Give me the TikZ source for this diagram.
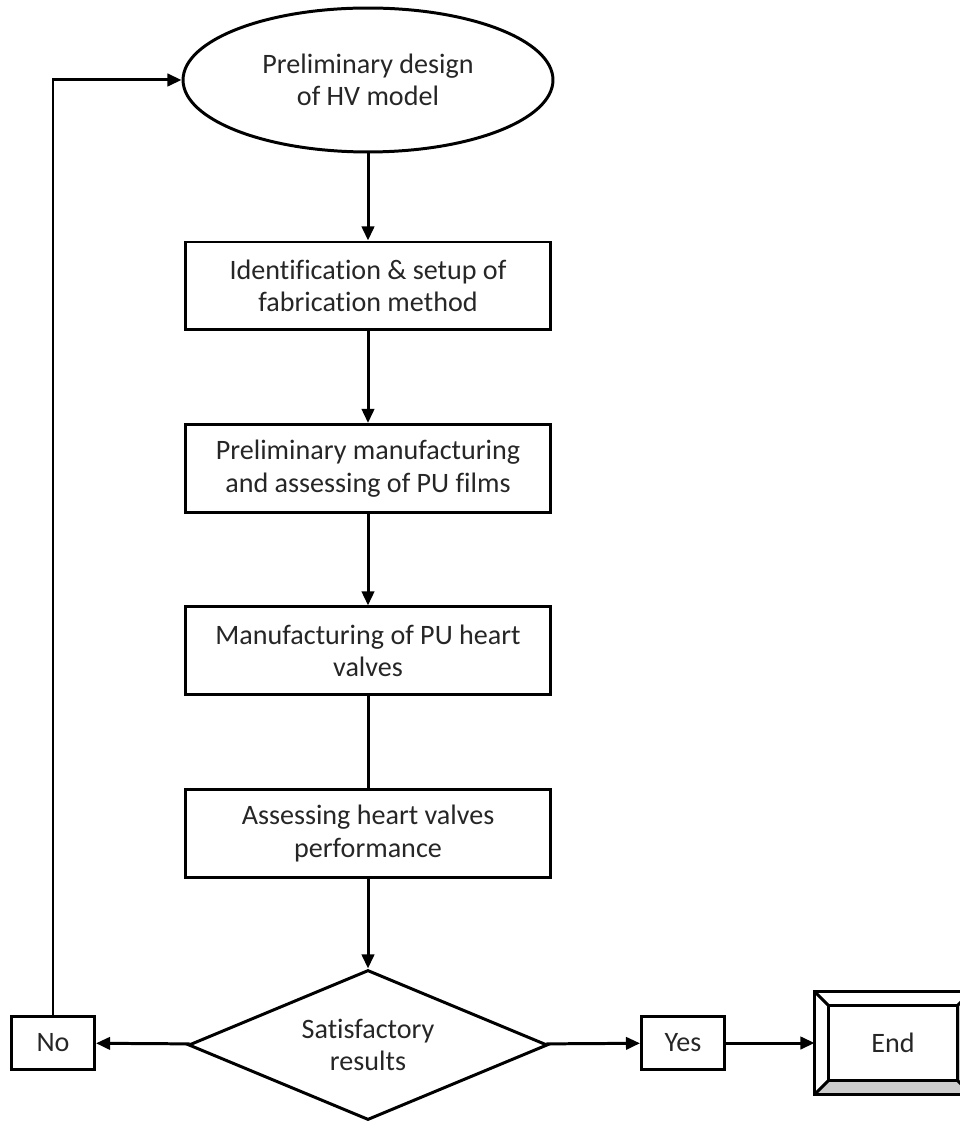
\documentclass[tikz,border=0pt]{standalone}
\usepackage{fontspec}
\setmainfont[Ligatures=NoCommon]{Carlito}
\usetikzlibrary{arrows.meta,positioning,shapes.geometric,calc}

\begin{document}
\begin{tikzpicture}[x=0.02cm,y=-0.02cm,line width=1.7pt,
		>={Triangle[length=8pt,width=7pt]},node distance=3.65cm,
		font=\fontsize{16}{18.5}\selectfont]
		\tikzstyle{every node}=[text=black!85,align=center]
		\tikzstyle{process}=[rectangle,draw,minimum width=7.32cm,minimum height=1.76cm]
		\tikzstyle{answer}=[rectangle,draw,minimum width=1.66cm,minimum height=1.06cm]
		\useasboundingbox (0,0) rectangle (959,1124);
		
		\node[ellipse,draw,minimum width=7.4cm,minimum height=2.88cm] (start) at (368,80) {Preliminary design\\of HV model};
		\node[process] (ident) at (368,286) {Identification \& setup of\\fabrication method};
		\node[process] (films) [below of=ident] {Preliminary manufacturing\\and assessing of PU films};
		\node[process] (valves) [below of=films] {Manufacturing of PU heart\\valves};
		\node[process] (perf) [below of=valves] {Assessing heart valves\\performance};
		\node[diamond,draw,aspect=2.4,inner sep=1pt,minimum width=7.18cm,minimum height=3cm] (check) at (368,1045) {Satisfactory\\results};
		\node[answer] (no) at (53,1043) {No};
		\node[answer] (yes) at (683,1043) {Yes};
		\node[rectangle,minimum width=3.08cm,minimum height=2cm] (end) at (893,1043) {};
		
		% bevelled end box
		\coordinate (i1) at ($(end.north west)+(14,14)$);
		\coordinate (i2) at ($(end.north east)+(-14,14)$);
		\coordinate (i3) at ($(end.south east)+(-14,-14)$);
		\coordinate (i4) at ($(end.south west)+(14,-14)$);
		\fill[black!20] (end.south west) -- (end.south east) -- (end.north east) -- (i2) -- (i3) -- (i4) -- cycle;
		\draw (end.north west) rectangle (end.south east);
		\draw (i1) rectangle (i3);
		\draw (end.north west) -- (i1) (end.north east) -- (i2)
		      (end.south east) -- (i3) (end.south west) -- (i4);
		\node at (end) {End};
		
		\draw[->] (start) -- (ident);
		\draw[->] (ident) -- (films);
		\draw[->] (films) -- (valves);
		\draw (valves) -- (perf);
		\draw[->] (perf) -- (check);
		\draw[->] (check) -- (no);
		\draw[->] (check) -- (yes);
		\draw[->] (yes) -- (end);
		\draw[->] (no) |- (start);
\end{tikzpicture}
\end{document}
